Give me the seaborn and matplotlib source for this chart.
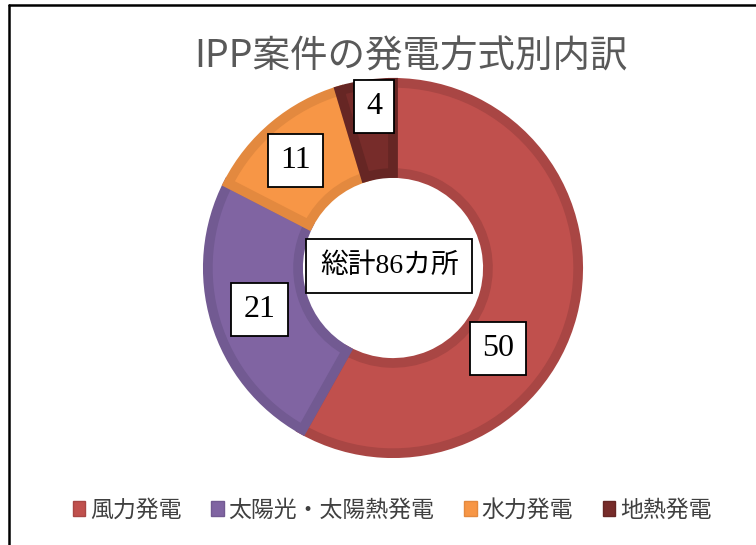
import matplotlib
matplotlib.use("Agg")
import matplotlib.pyplot as plt
from matplotlib.lines import Line2D
from matplotlib.patches import Patch
import seaborn as sns

categories = ["風力発電", "太陽光・太陽熱発電", "水力発電", "地熱発電"]
counts = [50, 21, 11, 4]
title = "IPP案件の発電方式別内訳"
center_text = "総計86カ所"

sns.set_theme(style="white")
plt.rcParams['font.family'] = ['Noto Sans CJK JP', 'DejaVu Sans']

fills = ["#C0504D", "#8064A2", "#F79646", "#772C2A"]
edges = ["#A94644", "#725A92", "#E3893F", "#662624"]

fig = plt.figure(figsize=(7.56, 5.45), dpi=100)
R = 188
cx, cy = 393, 268
ax = fig.add_axes([(cx - 200) / 756, (545 - cy - 200) / 545, 400 / 756, 400 / 545])

wedges, _ = ax.pie(counts, colors=fills, startangle=90, counterclock=False,
                   radius=0.985, wedgeprops=dict(width=0.48, linewidth=7, joinstyle="miter"))
for w, ec in zip(wedges, edges):
    w.set_edgecolor(ec)
ax.set_xlim(-200 / R, 200 / R)
ax.set_ylim(-200 / R, 200 / R)
ax.set_aspect("equal")
ax.axis("off")

# label box positions (data units)
label_pos = [(0.56, -0.43), (-0.71, -0.22), (-0.52, 0.57), (-0.10, 0.86)]
for (x, y), v in zip(label_pos, counts):
    ax.text(x, y, f"{v}", ha="center", va="center", fontsize=23,
            family=["Liberation Serif"], color="black",
            bbox=dict(boxstyle="square,pad=0.38", fc="white", ec="black", lw=1.3))
ax.text(-0.02, 0.01, center_text, ha="center", va="center", fontsize=20,
        family=["Liberation Serif", "Noto Sans CJK JP"], color="black",
        bbox=dict(boxstyle="square,pad=0.5", fc="white", ec="black", lw=1.3))

fig.text(411 / 756, 1 - 57 / 545, title, ha="center", va="center",
         fontsize=27, color="#595959")

handles = [Patch(facecolor=f, edgecolor=e) for f, e in zip(fills, edges)]
fig.legend(handles, categories, loc="center", bbox_to_anchor=(392 / 756, 1 - 510 / 545),
           ncol=4, frameon=False, fontsize=16.5, handlelength=0.55, handleheight=0.65,
           handletextpad=0.2, columnspacing=1.3, labelcolor="#404040")

fig.add_artist(Line2D([9 / 756, 9 / 756], [0, 1 - 5 / 545], color="black", lw=1.8))
fig.add_artist(Line2D([9 / 756, 1], [1 - 5 / 545, 1 - 5 / 545], color="black", lw=1.8))

fig.savefig("out.png", dpi=100)
